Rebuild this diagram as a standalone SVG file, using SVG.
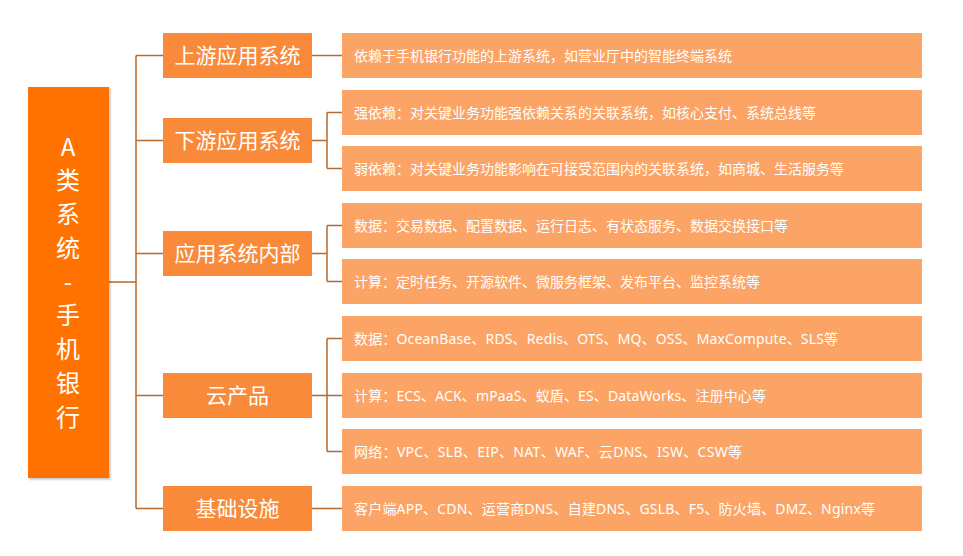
<svg xmlns="http://www.w3.org/2000/svg" width="963" height="556" viewBox="0 0 963 556">
<style>
.bg{fill:#ffffff}
.root{fill:#FF7200}
.l2{fill:#F98A3A}
.l3{fill:#FBA465}
.rt{font-family:"Noto Sans CJK SC","Noto Sans",sans-serif;font-size:24px;fill:#ffffff;text-anchor:middle}
.t2{font-family:"Noto Sans CJK SC","Noto Sans",sans-serif;font-size:21px;fill:#ffffff;text-anchor:middle}
.t3{font-family:"Noto Sans","Noto Sans CJK SC",sans-serif;font-size:14px;fill:#ffffff}
.ln{fill:none;stroke:#B8692B;stroke-width:1.5}
</style>
<defs>
<filter id="sh" x="-10%" y="-5%" width="130%" height="115%">
<feDropShadow dx="1.5" dy="1.5" stdDeviation="1.2" flood-color="#000000" flood-opacity="0.25"/>
</filter>
</defs>
<rect class="bg" x="0" y="0" width="963" height="556"/>
<g id="connectors">
<path class="ln" d="M109 282H136M136 55.5V508.5M136 55.5H163M136 140.5H163M136 253.5H163M136 395.5H163M136 508.5H163"/>
<path class="ln" d="M312 55.5H342M312 140.5H327M327 112.5V168.5M327 112.5H342M327 168.5H342M312 253.5H327M327 225.5V281.5M327 225.5H342M327 281.5H342M312 395.5H342M327 338.5V451.5M327 338.5H342M327 451.5H342M312 508.5H342"/>
</g>
<g id="root">
<rect class="root" x="28" y="87" width="81" height="391" filter="url(#sh)"/>
<text class="rt" x="68" y="155.5">A</text>
<text class="rt" x="68" y="189.3">类</text>
<text class="rt" x="68" y="223">系</text>
<text class="rt" x="68" y="256.8">统</text>
<text class="rt" x="68" y="290.5">-</text>
<text class="rt" x="68" y="324.3">手</text>
<text class="rt" x="68" y="358">机</text>
<text class="rt" x="68" y="391.8">银</text>
<text class="rt" x="68" y="425.5">行</text>
</g>
<g id="upstream">
<rect class="l2" x="163" y="33" width="149" height="45"/>
<text class="t2" x="237.5" y="63">上游应用系统</text>
</g>
<g id="downstream">
<rect class="l2" x="163" y="118" width="149" height="45"/>
<text class="t2" x="237.5" y="148">下游应用系统</text>
</g>
<g id="internal">
<rect class="l2" x="163" y="231" width="149" height="45"/>
<text class="t2" x="237.5" y="261">应用系统内部</text>
</g>
<g id="cloud">
<rect class="l2" x="163" y="373" width="149" height="45"/>
<text class="t2" x="237.5" y="403">云产品</text>
</g>
<g id="infra">
<rect class="l2" x="163" y="486" width="149" height="45"/>
<text class="t2" x="237.5" y="516">基础设施</text>
</g>
<g id="up-desc">
<rect class="l3" x="342" y="33" width="580" height="45"/>
<text class="t3" x="354" y="60.5">依赖于手机银行功能的上游系统，如营业厅中的智能终端系统</text>
</g>
<g id="strong-dep">
<rect class="l3" x="342" y="90" width="580" height="45"/>
<text class="t3" x="354" y="117.5">强依赖：对关键业务功能强依赖关系的关联系统，如核心支付、系统总线等</text>
</g>
<g id="weak-dep">
<rect class="l3" x="342" y="146" width="580" height="45"/>
<text class="t3" x="354" y="173.5">弱依赖：对关键业务功能影响在可接受范围内的关联系统，如商城、生活服务等</text>
</g>
<g id="int-data">
<rect class="l3" x="342" y="203" width="580" height="45"/>
<text class="t3" x="354" y="230.5">数据：交易数据、配置数据、运行日志、有状态服务、数据交换接口等</text>
</g>
<g id="int-compute">
<rect class="l3" x="342" y="259" width="580" height="45"/>
<text class="t3" x="354" y="286.5">计算：定时任务、开源软件、微服务框架、发布平台、监控系统等</text>
</g>
<g id="cloud-data">
<rect class="l3" x="342" y="316" width="580" height="45"/>
<text class="t3" x="354" y="343.5" textLength="484" lengthAdjust="spacing">数据：OceanBase、RDS、Redis、OTS、MQ、OSS、MaxCompute、SLS等</text>
</g>
<g id="cloud-compute">
<rect class="l3" x="342" y="373" width="580" height="45"/>
<text class="t3" x="354" y="400.5" textLength="412" lengthAdjust="spacing">计算：ECS、ACK、mPaaS、蚁盾、ES、DataWorks、注册中心等</text>
</g>
<g id="cloud-net">
<rect class="l3" x="342" y="429" width="580" height="45"/>
<text class="t3" x="354" y="456.5" textLength="388" lengthAdjust="spacing">网络：VPC、SLB、EIP、NAT、WAF、云DNS、ISW、CSW等</text>
</g>
<g id="infra-desc">
<rect class="l3" x="342" y="486" width="580" height="45"/>
<text class="t3" x="354" y="513.5" textLength="521" lengthAdjust="spacing">客户端APP、CDN、运营商DNS、自建DNS、GSLB、F5、防火墙、DMZ、Nginx等</text>
</g>
</svg>
